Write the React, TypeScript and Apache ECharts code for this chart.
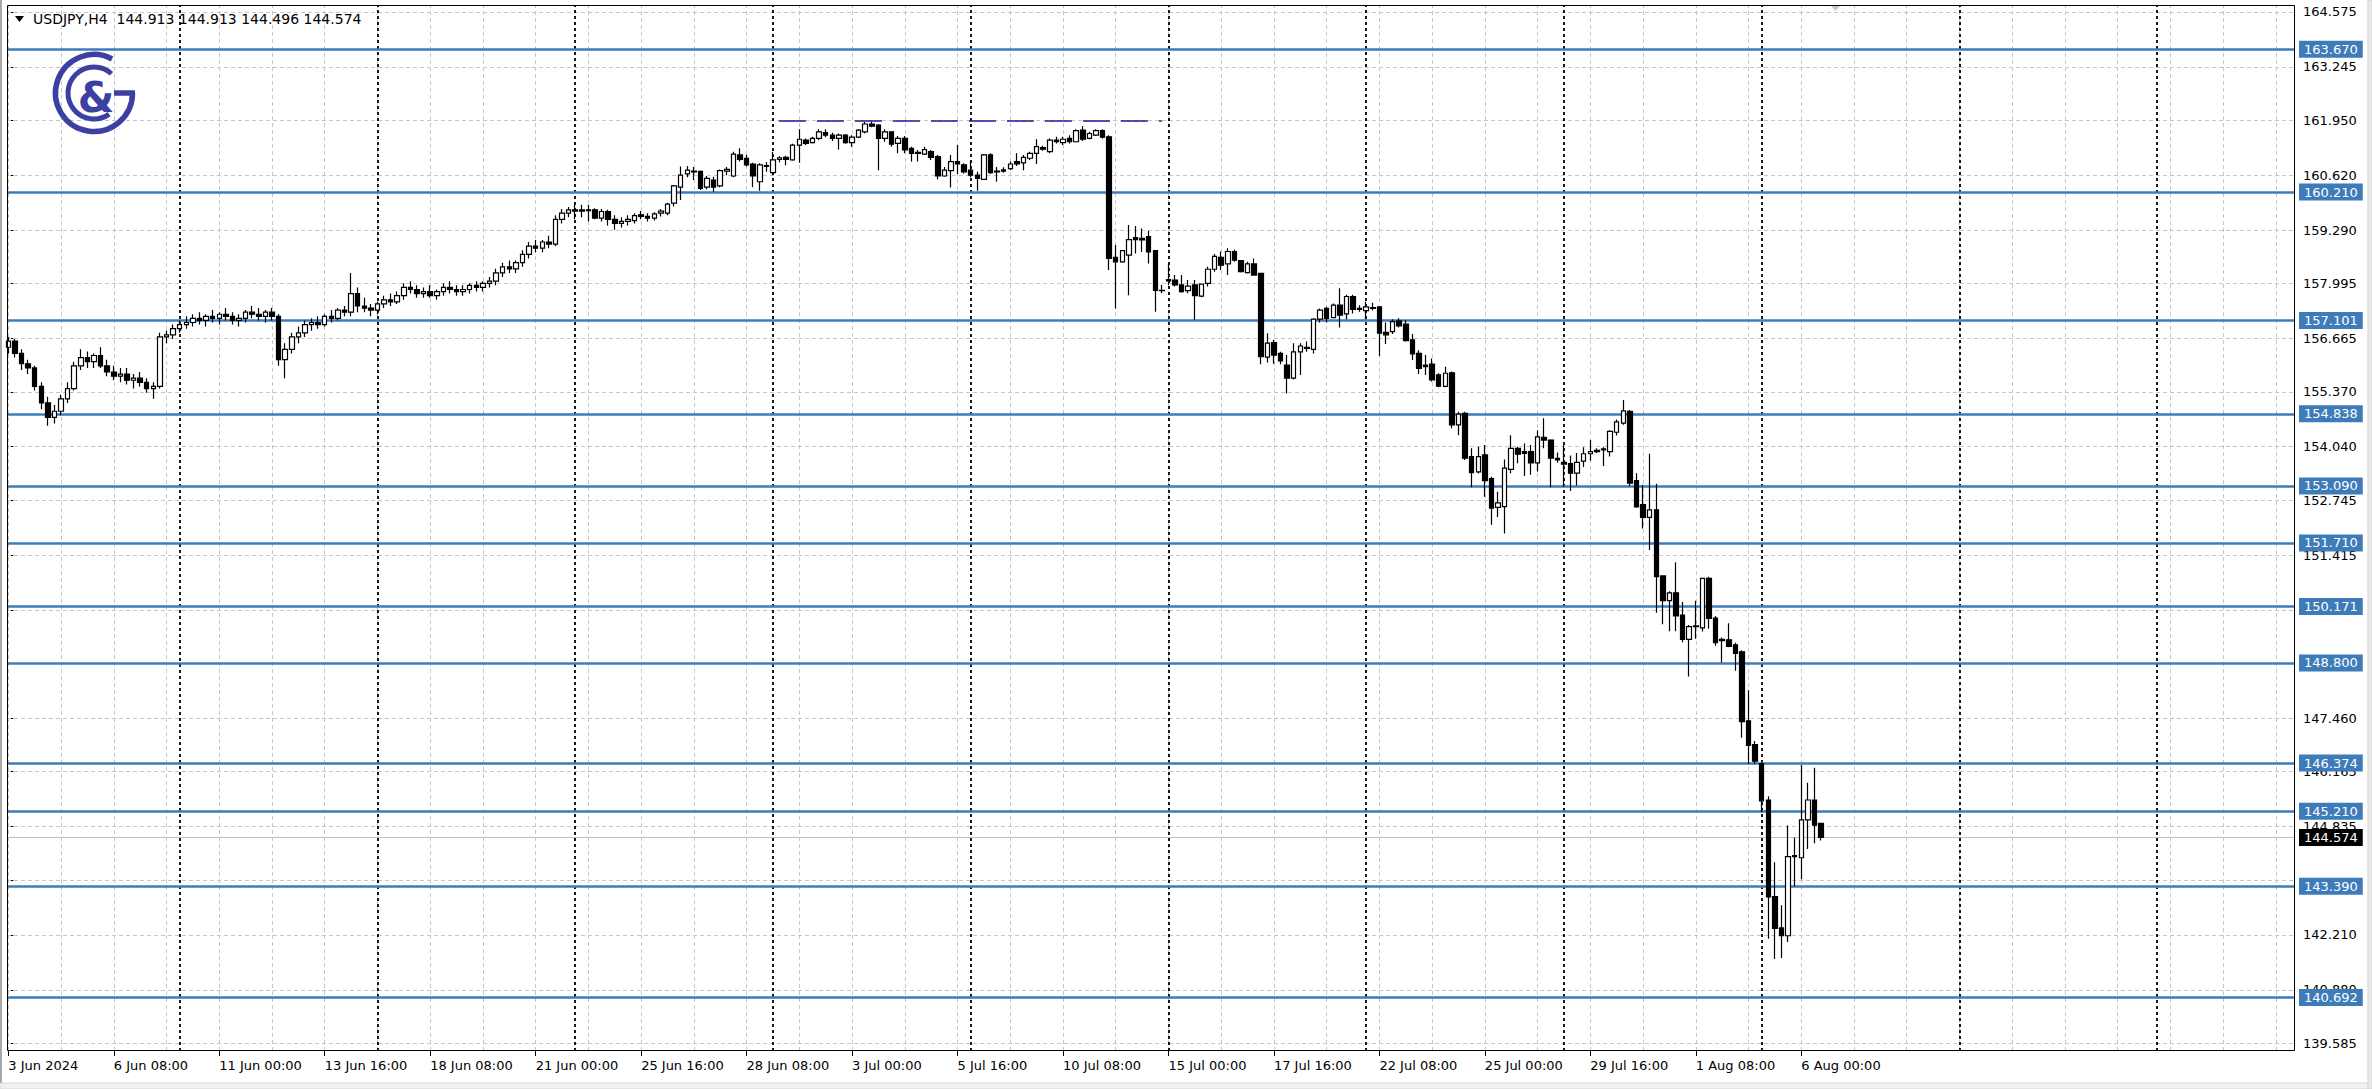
import React, { useEffect, useRef } from "react";
import * as echarts from "echarts";

// Candles, one array per trading week: [open, high, low, close]
const week0 = [
  [156.45, 156.7, 156.3, 156.6], [156.6, 156.65, 156.2, 156.3], [156.3, 156.4, 155.9, 156.05],
  [156.05, 156.15, 155.8, 155.95], [155.95, 156.0, 155.4, 155.5], [155.5, 155.6, 154.95, 155.1],
  [155.1, 155.25, 154.55, 154.75], [154.75, 155.05, 154.6, 154.9], [154.9, 155.3, 154.8, 155.2],
  [155.2, 155.6, 155.1, 155.45], [155.45, 156.1, 155.4, 156.0], [156.0, 156.4, 155.9, 156.2],
  [156.2, 156.35, 155.95, 156.1], [156.1, 156.3, 155.95, 156.25], [156.25, 156.45, 155.95, 156.0],
  [156.0, 156.15, 155.75, 155.85], [155.85, 156.0, 155.65, 155.75], [155.75, 155.95, 155.6, 155.8],
  [155.8, 155.95, 155.55, 155.65], [155.65, 155.8, 155.45, 155.7], [155.7, 155.85, 155.5, 155.6],
  [155.6, 155.7, 155.35, 155.45], [155.45, 155.6, 155.2, 155.5], [155.5, 156.8, 155.45, 156.7],
  [156.7, 156.85, 156.55, 156.75], [156.75, 157.0, 156.65, 156.9],
];
const week1 = [
  [156.9, 157.1, 156.8, 157.0], [157.0, 157.2, 156.9, 157.05], [157.05, 157.25, 156.95, 157.15],
  [157.15, 157.3, 157.0, 157.1], [157.1, 157.25, 156.95, 157.2], [157.2, 157.35, 157.05, 157.15],
  [157.15, 157.3, 157.0, 157.25], [157.25, 157.4, 157.1, 157.2], [157.2, 157.3, 157.0, 157.1],
  [157.1, 157.25, 156.95, 157.15], [157.15, 157.35, 157.05, 157.3], [157.3, 157.45, 157.15, 157.25],
  [157.25, 157.4, 157.1, 157.2], [157.2, 157.35, 157.05, 157.3], [157.3, 157.4, 157.1, 157.2],
  [157.2, 157.25, 156.0, 156.15], [156.15, 156.55, 155.7, 156.4], [156.4, 156.8, 156.3, 156.7],
  [156.7, 156.95, 156.55, 156.8], [156.8, 157.1, 156.7, 157.0], [157.0, 157.15, 156.85, 157.05],
  [157.05, 157.2, 156.9, 157.0], [157.0, 157.25, 156.95, 157.2], [157.2, 157.35, 157.05, 157.15],
  [157.15, 157.4, 157.1, 157.35], [157.35, 157.45, 157.2, 157.3], [157.3, 158.25, 157.2, 157.75],
  [157.75, 157.9, 157.3, 157.45], [157.45, 157.65, 157.3, 157.4], [157.4, 157.5, 157.2, 157.35],
];
const week2 = [
  [157.35, 157.55, 157.25, 157.5], [157.5, 157.7, 157.4, 157.6], [157.6, 157.75, 157.45, 157.55],
  [157.55, 157.8, 157.5, 157.7], [157.7, 158.0, 157.6, 157.9], [157.9, 158.05, 157.75, 157.85],
  [157.85, 157.95, 157.65, 157.75], [157.75, 157.9, 157.65, 157.8], [157.8, 157.95, 157.65, 157.7],
  [157.7, 157.85, 157.6, 157.8], [157.8, 158.0, 157.7, 157.9], [157.9, 158.05, 157.75, 157.85],
  [157.85, 157.95, 157.7, 157.8], [157.8, 157.95, 157.7, 157.85], [157.85, 158.0, 157.75, 157.95],
  [157.95, 158.05, 157.8, 157.9], [157.9, 158.05, 157.8, 158.0], [158.0, 158.15, 157.9, 158.05],
  [158.05, 158.35, 157.95, 158.25], [158.25, 158.5, 158.15, 158.4], [158.4, 158.55, 158.25, 158.35],
  [158.35, 158.55, 158.25, 158.5], [158.5, 158.8, 158.4, 158.7], [158.7, 159.0, 158.6, 158.9],
  [158.9, 159.05, 158.75, 158.85], [158.85, 159.05, 158.75, 159.0], [159.0, 159.15, 158.85, 158.95],
  [158.95, 159.65, 158.9, 159.55], [159.55, 159.8, 159.45, 159.7], [159.7, 159.85, 159.6, 159.78],
];
const week3 = [
  [159.78, 159.9, 159.55, 159.75], [159.75, 159.9, 159.6, 159.78], [159.78, 159.9, 159.5, 159.76],
  [159.78, 159.82, 159.55, 159.58], [159.58, 159.8, 159.5, 159.74], [159.74, 159.78, 159.4, 159.55],
  [159.55, 159.65, 159.3, 159.45], [159.45, 159.6, 159.35, 159.5], [159.5, 159.65, 159.4, 159.55],
  [159.52, 159.7, 159.45, 159.64], [159.66, 159.75, 159.55, 159.62], [159.62, 159.7, 159.5, 159.58],
  [159.58, 159.72, 159.52, 159.68], [159.7, 159.8, 159.62, 159.75], [159.7, 159.95, 159.65, 159.92],
  [159.94, 160.38, 159.86, 160.36], [160.33, 160.83, 160.02, 160.62], [160.65, 160.84, 160.57, 160.74],
  [160.72, 160.82, 160.5, 160.7], [160.71, 160.73, 160.26, 160.3], [160.33, 160.6, 160.28, 160.54],
  [160.5, 160.58, 160.22, 160.33], [160.36, 160.76, 160.33, 160.73], [160.72, 160.82, 160.62, 160.76],
  [160.6, 161.19, 160.57, 161.13], [161.11, 161.27, 160.95, 161.0], [161.03, 161.11, 160.83, 160.87],
  [160.89, 160.92, 160.33, 160.6], [160.46, 160.91, 160.24, 160.87], [160.85, 160.94, 160.7, 160.83],
];
const week4 = [
  [160.68, 161.19, 160.62, 160.99], [161.0, 161.08, 160.93, 161.04], [161.05, 161.09, 160.86, 161.0],
  [160.99, 161.38, 160.97, 161.35], [161.35, 161.73, 160.92, 161.49], [161.47, 161.51, 161.35, 161.39],
  [161.41, 161.55, 161.39, 161.51], [161.51, 161.73, 161.47, 161.67], [161.65, 161.73, 161.54, 161.59],
  [161.59, 161.65, 161.45, 161.51], [161.51, 161.63, 161.24, 161.59], [161.59, 161.62, 161.38, 161.41],
  [161.41, 161.59, 161.31, 161.54], [161.54, 161.74, 161.52, 161.71], [161.67, 161.91, 161.63, 161.86],
  [161.86, 161.92, 161.78, 161.81], [161.83, 161.86, 160.74, 161.51], [161.51, 161.73, 161.43, 161.67],
  [161.67, 161.67, 161.31, 161.37], [161.39, 161.57, 161.15, 161.51], [161.51, 161.57, 161.15, 161.23],
  [161.27, 161.31, 160.95, 161.15], [161.17, 161.23, 160.95, 161.15], [161.13, 161.31, 161.11, 161.24],
  [161.19, 161.23, 160.99, 161.05], [161.07, 161.11, 160.52, 160.6], [160.6, 160.82, 160.58, 160.74],
  [160.73, 161.11, 160.32, 160.95], [160.95, 161.35, 160.65, 160.89], [160.87, 160.91, 160.66, 160.7],
];
const week5 = [
  [160.74, 160.95, 160.57, 160.62], [160.62, 160.7, 160.24, 160.54], [160.52, 161.13, 160.5, 161.11],
  [161.11, 161.15, 160.65, 160.68], [160.72, 160.82, 160.46, 160.7], [160.72, 160.81, 160.68, 160.75],
  [160.78, 160.95, 160.74, 160.89], [160.95, 161.15, 160.84, 160.89], [160.92, 161.11, 160.74, 161.05],
  [161.03, 161.19, 160.99, 161.15], [161.15, 161.49, 160.89, 161.31], [161.29, 161.33, 161.21, 161.25],
  [161.19, 161.51, 161.15, 161.47], [161.47, 161.55, 161.39, 161.43], [161.41, 161.55, 161.35, 161.49],
  [161.51, 161.59, 161.39, 161.43], [161.43, 161.73, 161.41, 161.7], [161.71, 161.81, 161.45, 161.49],
  [161.51, 161.67, 161.49, 161.63], [161.59, 161.73, 161.57, 161.7], [161.7, 161.73, 161.51, 161.54],
  [161.55, 161.59, 158.32, 158.6], [158.63, 158.93, 157.39, 158.52], [158.52, 158.8, 158.5, 158.79],
  [158.68, 159.41, 157.71, 159.06], [159.11, 159.39, 158.72, 159.06], [159.09, 159.33, 158.76, 159.05],
  [159.13, 159.27, 158.48, 158.76], [158.79, 158.8, 157.31, 157.83], [157.83, 157.96, 157.76, 157.82],
];
const week6 = [
  [158.06, 158.48, 157.96, 158.09], [158.08, 158.2, 157.92, 157.96], [157.96, 158.2, 157.77, 157.8],
  [157.82, 158.08, 157.76, 157.93], [157.96, 158.08, 157.11, 157.7], [157.69, 157.98, 157.66, 157.98],
  [158.0, 158.4, 157.92, 158.34], [158.34, 158.71, 158.28, 158.65], [158.63, 158.77, 158.32, 158.44],
  [158.47, 158.85, 158.2, 158.77], [158.77, 158.81, 158.52, 158.56], [158.55, 158.56, 158.26, 158.28],
  [158.26, 158.52, 158.24, 158.47], [158.47, 158.6, 158.18, 158.2], [158.24, 158.24, 156.04, 156.22],
  [156.21, 156.79, 156.08, 156.55], [156.56, 156.63, 156.05, 156.26], [156.3, 156.34, 156.04, 156.12],
  [156.02, 156.26, 155.33, 155.7], [155.7, 156.55, 155.67, 156.34], [156.34, 156.55, 155.78, 156.48],
  [156.45, 156.59, 156.34, 156.42], [156.4, 157.15, 156.3, 157.13], [157.13, 157.39, 157.05, 157.35],
  [157.39, 157.43, 157.05, 157.15], [157.17, 157.51, 157.15, 157.47], [157.47, 157.88, 156.93, 157.23],
  [157.26, 157.72, 157.13, 157.68], [157.68, 157.72, 157.27, 157.37], [157.39, 157.47, 157.31, 157.37],
];
const week7 = [
  [157.34, 157.55, 157.13, 157.43], [157.41, 157.53, 157.34, 157.39], [157.43, 157.43, 156.24, 156.79],
  [156.81, 157.05, 156.53, 156.75], [156.83, 157.13, 156.77, 157.07], [157.09, 157.15, 156.93, 156.97],
  [157.01, 157.11, 156.59, 156.61], [156.63, 156.77, 156.14, 156.29], [156.3, 156.38, 155.8, 155.94],
  [156.02, 156.26, 155.78, 155.98], [156.04, 156.18, 155.62, 155.66], [155.78, 155.82, 155.48, 155.51],
  [155.5, 155.98, 155.48, 155.82], [155.83, 155.86, 154.49, 154.57], [154.57, 154.89, 154.32, 154.83],
  [154.85, 154.89, 153.72, 153.76], [153.8, 154.0, 153.06, 153.41], [153.43, 154.04, 153.39, 153.8],
  [153.84, 154.08, 152.83, 153.22], [153.27, 153.31, 152.15, 152.55], [152.57, 152.95, 152.34, 152.68],
  [152.59, 153.73, 151.94, 153.52], [153.49, 154.32, 153.4, 154.0], [154.0, 154.04, 153.64, 153.86],
  [153.92, 154.12, 153.33, 153.88], [153.92, 154.08, 153.36, 153.65], [153.65, 154.44, 153.44, 154.28],
  [154.27, 154.73, 154.0, 154.2], [154.2, 154.22, 153.06, 153.76], [153.76, 153.9, 153.65, 153.72],
];
const week8 = [
  [153.66, 154.08, 153.07, 153.62], [153.63, 153.83, 152.97, 153.4], [153.4, 153.89, 153.1, 153.66],
  [153.69, 154.03, 153.55, 153.87], [153.87, 154.2, 153.7, 153.92], [153.92, 154.0, 153.89, 153.95],
  [153.96, 154.03, 153.57, 153.99], [153.92, 154.44, 153.8, 154.41], [154.39, 154.7, 154.31, 154.64],
  [154.61, 155.17, 154.57, 154.91], [154.9, 154.93, 153.08, 153.16], [153.22, 153.4, 152.56, 152.58],
  [152.64, 153.11, 152.06, 152.33], [152.33, 153.87, 151.54, 152.51], [152.51, 153.14, 150.02, 150.89],
  [150.91, 150.91, 149.74, 150.31], [150.31, 150.54, 149.57, 150.5], [150.5, 151.24, 149.57, 149.94],
  [149.96, 150.28, 149.3, 149.37], [149.37, 149.72, 148.47, 149.68], [149.68, 150.31, 149.39, 149.7],
  [149.65, 150.85, 149.56, 150.85], [150.85, 150.89, 149.63, 149.88], [149.89, 149.94, 149.22, 149.29],
  [149.34, 149.42, 148.81, 149.37], [149.36, 149.76, 149.18, 149.2], [149.24, 149.29, 148.61, 149.03],
  [149.07, 149.11, 146.99, 147.38], [147.4, 148.14, 146.35, 146.8], [146.82, 146.91, 146.36, 146.42],
];
const week9 = [
  [146.36, 146.39, 145.18, 145.46], [145.48, 145.57, 142.12, 143.13], [143.14, 143.97, 141.63, 142.37],
  [142.38, 142.93, 141.65, 142.19], [142.19, 144.86, 142.04, 144.11], [144.13, 144.57, 143.39, 144.11],
  [144.08, 146.33, 143.56, 145.0], [145.0, 145.9, 144.29, 145.48], [145.48, 146.26, 144.43, 144.87],
  [144.913, 144.913, 144.496, 144.574],
];

const levelPrices = [163.67, 160.21, 157.101, 154.838, 153.09, 151.71, 150.171, 148.8, 146.374, 145.21, 143.39, 140.692];
const yTickValues = [
  164.575, 163.245, 161.95, 160.62, 159.29, 157.995, 156.665, 155.37, 154.04, 152.745,
  151.415, 150.085, 148.79, 147.46, 146.165, 144.835, 143.54, 142.21, 140.88, 139.585,
];
// tick labels that the level boxes fully hide in the reference are not written
const yHiddenLabels = [148.79, 143.54];
const xTickLabels = [
  "3 Jun 2024", "6 Jun 08:00", "11 Jun 00:00", "13 Jun 16:00", "18 Jun 08:00", "21 Jun 00:00",
  "25 Jun 16:00", "28 Jun 08:00", "3 Jul 00:00", "5 Jul 16:00", "10 Jul 08:00", "15 Jul 00:00",
  "17 Jul 16:00", "22 Jul 08:00", "25 Jul 00:00", "29 Jul 16:00", "1 Aug 08:00", "6 Aug 00:00",
];
const barsPerLabel = 16;
const barsPerGridLine = 8;
const separatorBars = [26, 56, 86, 116, 146, 176, 206, 236, 266, 296, 326];
const resistancePrice = 161.95;
const resistanceFromBar = 116.9;
const resistanceToBar = 175.0;
const lastPrice = 144.574;
const headerText = "USDJPY,H4  144.913 144.913 144.496 144.574";

const FONT = '"DejaVu Sans", Tahoma, sans-serif';
const LEVEL_BLUE = "#3e7cb9";
const LOGO = "#3c40a2";

export default function App() {
  const ref = useRef<HTMLDivElement>(null);

  useEffect(() => {
    document.body.style.margin = "0";
    const chart = echarts.init(ref.current as HTMLDivElement, null, { renderer: "svg" });
    const all = [...week0, ...week1, ...week2, ...week3, ...week4, ...week5, ...week6, ...week7, ...week8, ...week9];
    const candles = all.map((c, i) => [i, c[0], c[3], c[2], c[1]]);

    const gridBars: number[] = [];
    for (let b = 0; b < 347; b += barsPerGridLine) gridBars.push(b);
    const labelBars = xTickLabels.map((_, k) => k * barsPerLabel);
    const yLabelValues = yTickValues.filter((v) => !yHiddenLabels.includes(v));

    const boxLabel = (bg: string) => ({
      show: true,
      position: "end",
      distance: 4,
      formatter: (p: any) => p.name,
      backgroundColor: bg,
      color: "#ffffff",
      padding: [2, 5, 2, 5],
      fontFamily: FONT,
      fontSize: 13,
    });

    const helper = (name: string, z: number, markData: any[], lineStyle: any, label: any) => ({
      name,
      type: "line",
      xAxisIndex: 0,
      yAxisIndex: 0,
      data: [[-10, 150]],
      symbol: "none",
      silent: true,
      z,
      lineStyle: { opacity: 0 },
      markLine: {
        silent: true,
        symbol: ["none", "none"],
        precision: 3,
        animation: false,
        lineStyle,
        label,
        emphasis: { disabled: true },
        data: markData,
      },
    });

    const option: any = {
      animation: false,
      backgroundColor: "#ffffff",
      grid: { left: 7, top: 5, width: 2288, height: 1046, containLabel: false },
      xAxis: [
        {
          type: "value",
          min: -0.2,
          max: 346.9,
          axisLine: { show: false },
          splitLine: { show: false },
          axisTick: { show: true, customValues: labelBars, length: 5, lineStyle: { color: "#000" } },
          axisLabel: {
            customValues: labelBars,
            formatter: (v: number) => xTickLabels[Math.round(v / barsPerLabel)] ?? "",
            align: "left",
            margin: 8,
            color: "#000",
            fontFamily: FONT,
            fontSize: 13,
          },
        },
      ],
      yAxis: [
        {
          type: "value",
          position: "right",
          min: 139.398,
          max: 164.743,
          axisLine: { show: false },
          splitLine: { show: false },
          axisTick: { show: true, customValues: yTickValues, length: 5, lineStyle: { color: "#000" } },
          axisLabel: {
            customValues: yLabelValues,
            formatter: (v: number) => v.toFixed(3),
            margin: 8,
            color: "#000",
            fontFamily: FONT,
            fontSize: 13,
          },
        },
      ],
      series: [
        helper(
          "grid",
          1,
          [...gridBars.map((b) => ({ xAxis: b })), ...yTickValues.map((v) => ({ yAxis: v }))],
          { color: "#c6c6c6", width: 1, type: [4, 3] },
          { show: false }
        ),
        helper(
          "separators",
          2,
          separatorBars.map((b) => ({ xAxis: b })),
          { color: "#000000", width: 1.8, type: [3, 3] },
          { show: false }
        ),
        helper(
          "last",
          3,
          [{ yAxis: lastPrice, name: lastPrice.toFixed(3) }],
          { color: "#c0c0c0", width: 1, type: "solid" },
          boxLabel("#000000")
        ),
        helper(
          "levels",
          4,
          levelPrices.map((v) => ({ yAxis: v, name: v.toFixed(3) })),
          { color: LEVEL_BLUE, width: 2.5, type: "solid" },
          boxLabel(LEVEL_BLUE)
        ),
        helper(
          "resistance",
          4,
          [[{ coord: [resistanceFromBar, resistancePrice] }, { coord: [resistanceToBar, resistancePrice] }]],
          { color: "#1c1c96", width: 1.6, type: [27, 11] },
          { show: false }
        ),
        {
          name: "USDJPY",
          type: "candlestick",
          xAxisIndex: 0,
          yAxisIndex: 0,
          z: 6,
          barWidth: 5,
          dimensions: ["bar", "open", "close", "lowest", "highest"],
          encode: { x: "bar", y: ["open", "close", "lowest", "highest"] },
          data: candles,
          itemStyle: {
            color: "#ffffff",
            color0: "#000000",
            borderColor: "#000000",
            borderColor0: "#000000",
            borderWidth: 1.2,
          },
        },
      ],
      graphic: [
        { type: "rect", silent: true, z: 50, shape: { x: 7.5, y: 5.5, width: 2287, height: 1045 }, style: { fill: "none", stroke: "#000", lineWidth: 1 } },
        { type: "rect", silent: true, z: 50, shape: { x: 0, y: 0, width: 2, height: 1089 }, style: { fill: "#a8a8a8" } },
        { type: "rect", silent: true, z: 50, shape: { x: 0, y: 1083, width: 2372, height: 6 }, style: { fill: "#f0f0f0", stroke: "#d8d8d8", lineWidth: 1 } },
        { type: "rect", silent: true, z: 50, shape: { x: 2368, y: 0, width: 4, height: 1089 }, style: { fill: "#ececec", stroke: "#d0d0d0", lineWidth: 1 } },
        { type: "polygon", silent: true, z: 50, shape: { points: [[15, 16], [24, 16], [19.5, 22]] }, style: { fill: "#000" } },
        { type: "text", silent: true, z: 50, x: 33, y: 19, style: { text: headerText, font: `14px ${FONT}`, fill: "#000", verticalAlign: "middle" } },
        { type: "polygon", silent: true, z: 50, shape: { points: [[1831, 6], [1840, 6], [1835.5, 11]] }, style: { fill: "#c8c8c8" } },
        { type: "arc", silent: true, z: 50, shape: { cx: 94, cy: 93, r: 38.5, startAngle: 0, endAngle: 5.2, clockwise: true }, style: { stroke: LOGO, lineWidth: 5.5, fill: "none" } },
        { type: "line", silent: true, z: 50, shape: { x1: 114, y1: 93, x2: 135, y2: 93 }, style: { stroke: LOGO, lineWidth: 5.5 } },
        { type: "arc", silent: true, z: 50, shape: { cx: 94, cy: 93, r: 26, startAngle: 0.95, endAngle: 5.45, clockwise: true }, style: { stroke: LOGO, lineWidth: 5, fill: "none" } },
        { type: "text", silent: true, z: 50, x: 96, y: 97, style: { text: "&", font: `bold 42px ${FONT}`, fill: LOGO, align: "center", verticalAlign: "middle" } },
      ],
    };

    chart.setOption(option);
    return () => chart.dispose();
  }, []);

  return <div ref={ref} style={{ width: 2372, height: 1089 }} />;
}
